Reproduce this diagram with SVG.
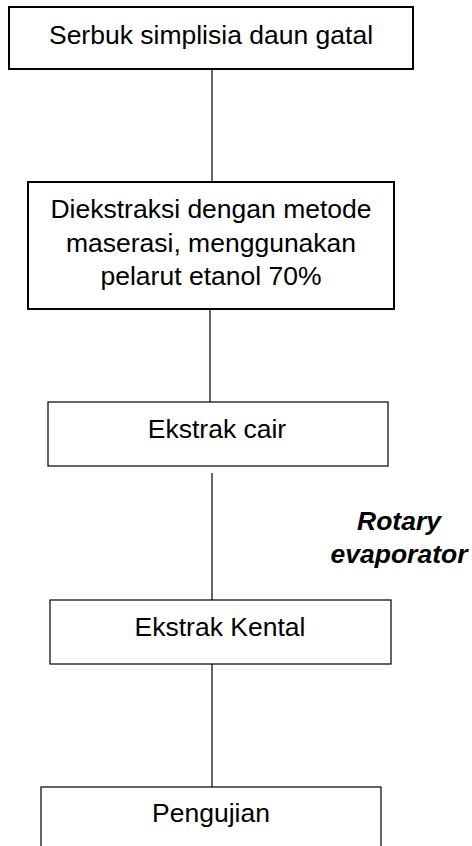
<svg xmlns="http://www.w3.org/2000/svg" width="472" height="846" viewBox="0 0 472 846">
<style>
.box{fill:#fff;stroke:#000;stroke-width:1.2}
.bold{stroke-width:2}
.t{font-family:"Liberation Sans",Arial,sans-serif;font-size:26.5px;fill:#000;text-anchor:middle}
.lbl{font-weight:bold;font-style:italic}
.c{stroke:#000;stroke-width:1.2;fill:none}
</style>
<rect width="472" height="846" fill="#fff"/>
<g id="connectors">
<line class="c" x1="212" y1="69" x2="212" y2="182"/>
<line class="c" x1="210" y1="309" x2="210" y2="402"/>
<line class="c" x1="212" y1="473" x2="212" y2="600"/>
<line class="c" x1="212" y1="664" x2="212" y2="787"/>
</g>
<g id="n1">
<rect class="box bold" x="9" y="7" width="404" height="62"/>
<text class="t" x="211" y="44">Serbuk simplisia daun gatal</text>
</g>
<g id="n2">
<rect class="box bold" x="28" y="182" width="366" height="127"/>
<text class="t" x="211" y="218">Diekstraksi dengan metode</text>
<text class="t" x="211" y="252">maserasi, menggunakan</text>
<text class="t" x="211" y="285">pelarut etanol 70%</text>
</g>
<g id="n3">
<rect class="box" x="48" y="402" width="340" height="64"/>
<text class="t" x="217" y="438">Ekstrak cair</text>
</g>
<g id="label">
<text class="t lbl" x="399" y="530">Rotary</text>
<text class="t lbl" x="399" y="563">evaporator</text>
</g>
<g id="n4">
<rect class="box" x="50" y="600" width="341" height="64"/>
<text class="t" x="220" y="636">Ekstrak Kental</text>
</g>
<g id="n5">
<rect class="box" x="41" y="787" width="340" height="70"/>
<text class="t" x="211" y="822">Pengujian</text>
</g>
</svg>
